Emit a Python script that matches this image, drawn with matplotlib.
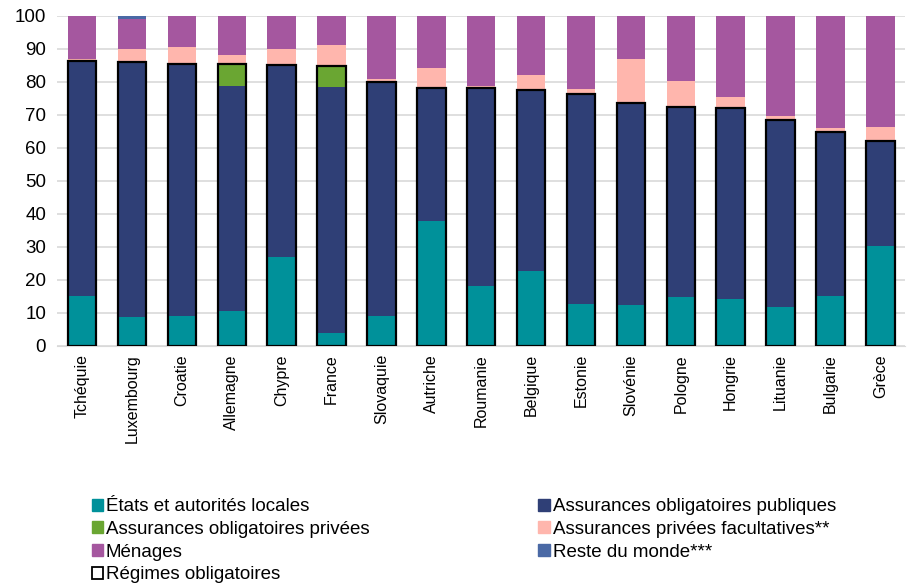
import matplotlib.pyplot as plt
import numpy as np
from matplotlib.patches import Patch

plt.rcParams['font.family'] = ['Liberation Sans', 'DejaVu Sans']

# Pays et parts du financement (%)
pays = ['Tchéquie', 'Luxembourg', 'Croatie', 'Allemagne', 'Chypre', 'France', 'Slovaquie',
        'Autriche', 'Roumanie', 'Belgique', 'Estonie', 'Slovénie', 'Pologne', 'Hongrie',
        'Lituanie', 'Bulgarie', 'Grèce']
etats = [15.2, 8.8, 9.1, 10.4, 27.0, 3.9, 9.1, 37.7, 18.0, 22.6, 12.7, 12.4, 14.9, 14.3, 11.8, 15.1, 30.2]
oblig_publiques = [71.2, 77.2, 76.4, 68.2, 58.2, 74.5, 70.7, 40.5, 60.2, 54.8, 63.6, 61.3, 57.5, 57.9, 56.6, 49.6, 31.8]
oblig_privees = [0, 0, 0, 6.9, 0, 6.4, 0, 0, 0, 0, 0, 0, 0, 0, 0, 0, 0]
privees_facult = [0.6, 3.9, 5.1, 2.5, 4.8, 6.4, 0.9, 6.0, 0.6, 4.6, 1.6, 13.3, 7.8, 3.1, 1.3, 1.3, 4.4]
menages = [13.0, 9.0, 9.4, 12.0, 10.0, 8.8, 19.3, 15.8, 21.2, 18.0, 22.1, 13.0, 19.8, 24.7, 30.3, 34.0, 33.4]
reste_monde = [0, 1.1, 0, 0, 0, 0, 0, 0, 0, 0, 0, 0, 0, 0, 0, 0, 0.2]

series = [
    ('États et autorités locales', etats, '#00919a'),
    ('Assurances obligatoires publiques', oblig_publiques, '#2f3f76'),
    ('Assurances obligatoires privées', oblig_privees, '#6aa632'),
    ('Assurances privées facultatives**', privees_facult, '#ffb6ad'),
    ('Ménages', menages, '#a5579f'),
    ('Reste du monde***', reste_monde, '#4a69a5'),
]

fig = plt.figure(figsize=(9.08, 5.85), dpi=100)
ax = fig.add_axes([0.063, 0.409, 0.934, 0.564])

x = np.arange(len(pays))
w = 0.57
bas = np.zeros(len(pays))
for nom, vals, couleur in series:
    ax.bar(x, vals, w, bottom=bas, color=couleur, label=nom, zorder=2)
    bas += np.array(vals)

# contour des régimes obligatoires
regimes = np.array(etats) + np.array(oblig_publiques) + np.array(oblig_privees)
ax.bar(x, regimes, w, facecolor='none', edgecolor='black', linewidth=1.6, zorder=3)

ax.set_xlim(-0.5, len(pays) - 0.5)
ax.set_ylim(0, 100)
ax.set_yticks(range(0, 101, 10))
ax.set_xticks(x)
ax.set_xticklabels(pays, rotation=90, fontsize=11.5)
ax.tick_params(axis='y', labelsize=13.5, length=0, pad=8)
ax.tick_params(axis='x', length=0, pad=6)
ax.grid(axis='y', color='#d9d9d9', linewidth=1.2, zorder=0)
for s in ['top', 'right', 'left']:
    ax.spines[s].set_visible(False)
ax.spines['bottom'].set_color('#d9d9d9')

handles = {nom: Patch(color=c) for nom, _, c in series}
regimes_patch = Patch(facecolor='white', edgecolor='black', linewidth=1.3)
col1 = [handles['États et autorités locales'], handles['Assurances obligatoires privées'],
        handles['Ménages'], regimes_patch]
lab1 = ['États et autorités locales', 'Assurances obligatoires privées', 'Ménages', 'Régimes obligatoires']
col2 = [handles['Assurances obligatoires publiques'], handles['Assurances privées facultatives**'],
        handles['Reste du monde***']]
lab2 = ['Assurances obligatoires publiques', 'Assurances privées facultatives**', 'Reste du monde***']

leg_kw = dict(loc='upper left', frameon=False, fontsize=13.5, handlelength=0.6, handleheight=0.6,
              handletextpad=0.15, labelspacing=0.3, borderpad=0, borderaxespad=0)
fig.legend(col1, lab1, bbox_to_anchor=(0.101, 0.148), **leg_kw)
fig.legend(col2, lab2, bbox_to_anchor=(0.593, 0.148), **leg_kw)

plt.savefig('out.png', dpi=100)
